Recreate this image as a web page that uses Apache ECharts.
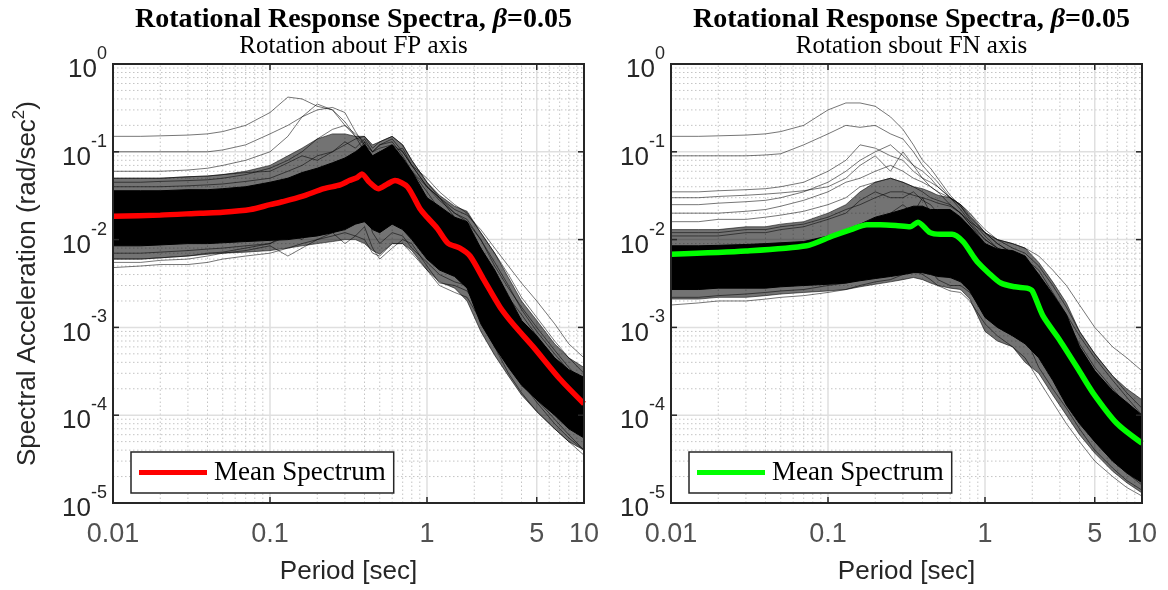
<!DOCTYPE html>
<html><head><meta charset="utf-8">
<script src="https://cdn.jsdelivr.net/npm/echarts@6/dist/echarts.min.js"></script>
<style>html,body{margin:0;padding:0;background:#fff;}#c{width:1168px;height:590px;}</style>
</head><body><div id="c"></div>
<script>
// ---------- axes / ticks ----------
const X_MIN = 0.01, X_MAX = 10, Y_MIN = 1e-5, Y_MAX = 1;
const X_TICKS = [0.01, 0.1, 1, 5, 10];
const X_TICK_LABELS = ['0.01', '0.1', '1', '5', '10'];
const X_MINOR = [0.02,0.03,0.04,0.05,0.06,0.07,0.08,0.09,0.2,0.3,0.4,0.5,0.6,0.7,0.8,0.9,2,3,4,6,7,8,9];
const Y_TICKS = [1e-5, 1e-4, 1e-3, 1e-2, 1e-1, 1];
const Y_MINOR = [2e-5,3e-5,4e-5,5e-5,6e-5,7e-5,8e-5,9e-5,2e-4,3e-4,4e-4,5e-4,6e-4,7e-4,8e-4,9e-4,
  2e-3,3e-3,4e-3,5e-3,6e-3,7e-3,8e-3,9e-3,0.02,0.03,0.04,0.05,0.06,0.07,0.08,0.09,0.2,0.3,0.4,0.5,0.6,0.7,0.8,0.9];

// ---------- periods for individual records / bands ----------
const periods = [0.01,0.015,0.02,0.03,0.04,0.05,0.07,0.1,0.13,0.16,0.2,0.25,0.3,0.35,0.4,0.45,0.5,0.6,0.7,0.8,1.0,1.2,1.5,1.8,2.2,2.7,3.3,4,5,6.5,8,10];

// ---------- Left panel: rotation about FP axis ----------
const fpMeanPeriods = [0.01,0.02,0.036,0.05,0.075,0.1,0.12,0.16,0.22,0.28,0.32,0.36,0.385,0.43,0.49,0.56,0.625,0.75,0.9,1.0,1.16,1.36,1.62,1.88,2.3,2.92,3.6,4.75,7.0,10];
const fpMean = [0.0185,0.019,0.020,0.0205,0.022,0.025,0.027,0.031,0.038,0.042,0.047,0.051,0.056,0.045,0.038,0.043,0.047,0.040,0.0226,0.018,0.0135,0.0091,0.0080,0.0065,0.0035,0.0017,0.00105,0.0006,0.00026,0.000135];
const fpBandUpper = [0.036,0.036,0.036,0.037,0.037,0.038,0.04,0.045,0.05,0.058,0.065,0.075,0.085,0.1,0.12,0.09,0.1,0.12,0.085,0.06,0.03,0.024,0.018,0.016,0.008,0.0045,0.0023,0.0012,0.0008,0.00045,0.00033,0.00027];
const fpBandLower = [0.0085,0.0085,0.0087,0.009,0.009,0.0092,0.0095,0.0098,0.01,0.0105,0.011,0.012,0.013,0.015,0.016,0.013,0.012,0.015,0.013,0.01,0.006,0.0045,0.0038,0.0028,0.0011,0.0006,0.00035,0.00022,0.00015,0.0001,0.00007,0.000055];
const fpHaloUpper = [0.05,0.05,0.05,0.052,0.053,0.055,0.06,0.07,0.09,0.11,0.14,0.16,0.16,0.15,0.15,0.12,0.13,0.15,0.12,0.08,0.045,0.032,0.024,0.021,0.012,0.007,0.0037,0.002,0.0012,0.00065,0.00045,0.00035];
const fpHaloLower = [0.006,0.006,0.0062,0.0065,0.0068,0.007,0.0072,0.0075,0.008,0.0085,0.009,0.0095,0.01,0.01,0.009,0.0075,0.0068,0.009,0.009,0.0075,0.0045,0.0033,0.0028,0.002,0.0009,0.00048,0.00028,0.00017,0.00011,0.00007,0.00005,0.00004];
const fpRecA = [0.15,0.15,0.152,0.155,0.16,0.17,0.2,0.28,0.42,0.4,0.33,0.3,0.2,0.15,0.1,0.08,0.09,0.085,0.06,0.04,0.025,0.018,0.011,0.008,0.005,0.0025,0.0013,0.0008,0.0005,0.00028,0.00018,0.00011];
const fpRecB = [0.1,0.1,0.1,0.1,0.1,0.105,0.12,0.16,0.2,0.25,0.3,0.32,0.28,0.17,0.12,0.09,0.1,0.11,0.08,0.05,0.03,0.02,0.012,0.009,0.006,0.003,0.0016,0.001,0.0006,0.00035,0.00022,0.00014];
const fpRecC = [0.06,0.06,0.06,0.062,0.065,0.07,0.08,0.1,0.15,0.25,0.35,0.3,0.22,0.15,0.12,0.1,0.12,0.13,0.09,0.06,0.035,0.022,0.014,0.01,0.006,0.0035,0.002,0.0012,0.0007,0.0004,0.00025,0.00016];
const fpRecD = [0.0048,0.005,0.0052,0.0052,0.0055,0.006,0.0065,0.007,0.008,0.009,0.01,0.011,0.012,0.011,0.01,0.007,0.0065,0.009,0.009,0.007,0.0045,0.003,0.0025,0.0022,0.0012,0.0006,0.0003,0.00018,0.00011,0.00007,0.00005,0.000035];
const fpRecE = [0.045,0.045,0.046,0.047,0.048,0.05,0.055,0.065,0.08,0.1,0.14,0.18,0.2,0.16,0.13,0.1,0.11,0.12,0.1,0.07,0.04,0.03,0.018,0.013,0.008,0.004,0.0022,0.0014,0.0008,0.00045,0.0003,0.0002];
const fpRecF = [0.04,0.04,0.04,0.041,0.042,0.043,0.046,0.05,0.06,0.07,0.09,0.1,0.12,0.14,0.15,0.11,0.13,0.15,0.12,0.08,0.045,0.03,0.02,0.016,0.01,0.005,0.0028,0.0017,0.001,0.00055,0.00035,0.00023];
const fpRecG = [0.02,0.02,0.021,0.022,0.022,0.023,0.025,0.028,0.032,0.036,0.04,0.05,0.06,0.07,0.08,0.07,0.08,0.09,0.08,0.06,0.04,0.03,0.022,0.019,0.013,0.008,0.005,0.0032,0.002,0.0011,0.00065,0.00045];
const fpRecH = [0.0055,0.0055,0.0058,0.006,0.0065,0.007,0.0075,0.0085,0.0065,0.008,0.01,0.012,0.009,0.011,0.014,0.008,0.006,0.008,0.01,0.009,0.005,0.0032,0.003,0.0026,0.0015,0.0008,0.00045,0.00026,0.00015,0.00009,0.00006,0.00004];
const fpRecI = [0.006,0.006,0.0062,0.0065,0.007,0.0072,0.008,0.009,0.011,0.013,0.016,0.02,0.022,0.025,0.03,0.02,0.015,0.018,0.016,0.012,0.008,0.006,0.005,0.0045,0.003,0.0018,0.0011,0.0007,0.00045,0.00025,0.00016,0.0001];
const fpRecJ = [0.05,0.05,0.05,0.052,0.053,0.055,0.058,0.06,0.075,0.09,0.08,0.1,0.13,0.11,0.14,0.1,0.12,0.14,0.1,0.07,0.05,0.035,0.025,0.02,0.012,0.007,0.004,0.0022,0.0013,0.0007,0.00045,0.0003];
const fpRecK = [0.028,0.028,0.029,0.03,0.03,0.031,0.033,0.038,0.05,0.045,0.06,0.07,0.055,0.09,0.13,0.07,0.09,0.1,0.11,0.07,0.04,0.028,0.02,0.017,0.01,0.0055,0.003,0.0016,0.0009,0.0005,0.00032,0.00022];
const fpRecL = [0.012,0.012,0.012,0.013,0.013,0.013,0.014,0.016,0.018,0.022,0.02,0.03,0.035,0.03,0.05,0.035,0.025,0.04,0.035,0.025,0.015,0.01,0.009,0.008,0.0035,0.0018,0.0009,0.0005,0.0003,0.00018,0.00012,0.00008];
const fpRecM = [0.007,0.007,0.0072,0.0075,0.0078,0.008,0.0085,0.009,0.012,0.01,0.015,0.013,0.018,0.016,0.025,0.012,0.009,0.012,0.011,0.008,0.0055,0.004,0.0033,0.003,0.0014,0.0007,0.0004,0.00024,0.00014,0.00008,0.000055,0.00004];

// ---------- Right panel: rotation about FN axis ----------
const fnMeanPeriods = [0.01,0.03,0.073,0.107,0.14,0.177,0.215,0.27,0.333,0.374,0.447,0.52,0.617,0.725,0.84,0.9,1.05,1.26,1.55,1.85,2.0,2.34,3.0,3.9,4.87,6.9,10];
const fnMean = [0.0068,0.0074,0.0085,0.011,0.013,0.0148,0.0148,0.0145,0.014,0.0158,0.012,0.0115,0.0115,0.0095,0.0065,0.0055,0.0042,0.0032,0.0029,0.0028,0.0026,0.00135,0.00071,0.00034,0.00018,0.000081,0.000048];
const fnBandUpper = [0.0085,0.0085,0.0086,0.0088,0.009,0.0092,0.0095,0.011,0.013,0.015,0.018,0.02,0.022,0.024,0.024,0.022,0.022,0.022,0.018,0.014,0.009,0.0078,0.0075,0.0065,0.004,0.0024,0.0014,0.0006,0.00032,0.00019,0.00014,0.0001];
const fnBandLower = [0.0027,0.0027,0.0028,0.0028,0.0028,0.0029,0.003,0.0031,0.0032,0.0034,0.0036,0.0038,0.004,0.0042,0.0042,0.004,0.0038,0.0037,0.0033,0.0026,0.0013,0.001,0.0008,0.00065,0.00045,0.00025,0.00013,0.00008,0.00005,0.00003,0.000022,0.000017];
const fnHaloUpper = [0.013,0.013,0.013,0.014,0.014,0.015,0.016,0.02,0.025,0.035,0.045,0.05,0.045,0.04,0.038,0.035,0.032,0.03,0.025,0.019,0.012,0.01,0.009,0.008,0.0055,0.0033,0.0019,0.0009,0.0005,0.00028,0.0002,0.00015];
const fnHaloLower = [0.0021,0.0021,0.0022,0.0022,0.0023,0.0024,0.0025,0.0026,0.0027,0.0029,0.0031,0.0033,0.0035,0.0037,0.0035,0.0032,0.003,0.0028,0.0027,0.0021,0.0009,0.0007,0.0006,0.0004,0.0003,0.00017,0.0001,0.00006,0.000037,0.000023,0.000017,0.000013];
const fnRec1 = [0.15,0.15,0.152,0.155,0.16,0.17,0.2,0.3,0.36,0.36,0.33,0.25,0.18,0.12,0.08,0.065,0.05,0.032,0.024,0.018,0.012,0.009,0.007,0.0055,0.0035,0.002,0.0011,0.0006,0.00032,0.00018,0.00012,0.00008];
const fnRec2 = [0.09,0.09,0.09,0.09,0.092,0.095,0.12,0.16,0.2,0.19,0.2,0.16,0.14,0.1,0.07,0.055,0.045,0.03,0.022,0.016,0.01,0.008,0.006,0.005,0.003,0.0017,0.001,0.00055,0.0003,0.00017,0.00011,0.00007];
const fnRec3 = [0.035,0.035,0.036,0.037,0.038,0.04,0.045,0.06,0.08,0.12,0.11,0.09,0.08,0.06,0.05,0.04,0.035,0.025,0.02,0.015,0.009,0.007,0.006,0.005,0.003,0.0016,0.0009,0.0005,0.00028,0.00016,0.00011,0.00008];
const fnRec4 = [0.025,0.025,0.026,0.027,0.028,0.03,0.035,0.045,0.06,0.08,0.1,0.12,0.09,0.07,0.06,0.05,0.04,0.03,0.025,0.02,0.012,0.009,0.007,0.006,0.004,0.0022,0.0012,0.00065,0.00035,0.0002,0.00013,0.00009];
const fnRec5 = [0.02,0.02,0.02,0.021,0.022,0.024,0.028,0.035,0.045,0.05,0.06,0.07,0.06,0.05,0.045,0.04,0.035,0.03,0.025,0.02,0.013,0.01,0.008,0.007,0.005,0.003,0.0017,0.0009,0.0005,0.00028,0.00018,0.00012];
const fnRec6 = [0.012,0.012,0.012,0.013,0.013,0.014,0.015,0.018,0.022,0.025,0.03,0.035,0.035,0.032,0.03,0.028,0.026,0.024,0.02,0.016,0.012,0.01,0.009,0.008,0.0065,0.0045,0.003,0.0018,0.001,0.0006,0.00045,0.00032];
const fnRec7 = [0.016,0.016,0.017,0.017,0.018,0.019,0.021,0.025,0.03,0.04,0.045,0.05,0.045,0.04,0.035,0.03,0.028,0.025,0.02,0.015,0.01,0.008,0.007,0.006,0.0045,0.0025,0.0014,0.0008,0.00045,0.00025,0.00016,0.0001];
const fnRec8 = [0.011,0.011,0.011,0.012,0.012,0.013,0.014,0.017,0.02,0.028,0.035,0.03,0.03,0.035,0.028,0.025,0.02,0.018,0.016,0.012,0.008,0.007,0.006,0.005,0.003,0.0017,0.0009,0.0005,0.00028,0.00016,0.0001,0.00007];
const fnRec9 = [0.03,0.03,0.031,0.032,0.033,0.034,0.036,0.04,0.05,0.07,0.09,0.06,0.1,0.07,0.05,0.045,0.04,0.03,0.024,0.017,0.011,0.008,0.0065,0.0055,0.0035,0.0019,0.001,0.00055,0.0003,0.00017,0.00012,0.00008];
const fnRec10 = [0.005,0.005,0.0052,0.0055,0.0055,0.0058,0.006,0.007,0.009,0.012,0.016,0.02,0.025,0.02,0.03,0.02,0.018,0.015,0.012,0.009,0.006,0.005,0.0045,0.004,0.002,0.001,0.0005,0.00025,0.00013,0.00007,0.00005,0.00003];
const fnRec11 = [0.0032,0.0032,0.0033,0.0034,0.0035,0.0036,0.0038,0.004,0.0045,0.005,0.006,0.007,0.0065,0.008,0.0075,0.006,0.005,0.0045,0.0038,0.003,0.0018,0.0014,0.0012,0.0009,0.0005,0.0003,0.00016,0.00009,0.00005,0.00003,0.000022,0.000016];
const fnRecL1 = [0.0018,0.0019,0.002,0.002,0.0021,0.0022,0.0023,0.0025,0.0027,0.003,0.0033,0.0035,0.004,0.0045,0.004,0.0035,0.003,0.0026,0.0025,0.002,0.0011,0.0008,0.0006,0.00045,0.00025,0.00014,0.00008,0.00005,0.00003,0.00002,0.000015,0.000012];
const fnRecL2 = [0.0022,0.0022,0.0023,0.0024,0.0025,0.0026,0.0027,0.003,0.0032,0.0035,0.004,0.0045,0.005,0.0055,0.005,0.0045,0.0035,0.003,0.003,0.0025,0.0015,0.0012,0.001,0.0008,0.00035,0.0002,0.00012,0.00007,0.00004,0.000025,0.000018,0.000014];

const panels = [
  {title:'Rotation about FP axis', meanName:'meanFP', meanColor:'#ff0000', meanP:fpMeanPeriods, mean:fpMean,
   upper:fpBandUpper, lower:fpBandLower, hUpper:fpHaloUpper, hLower:fpHaloLower,
   recs:[fpRecA,fpRecB,fpRecC,fpRecD,fpRecE,fpRecF,fpRecG,fpRecH,fpRecI,fpRecJ,fpRecK,fpRecL,fpRecM]},
  {title:'Rotation sbout FN axis', meanName:'meanFN', meanColor:'#00ff00', meanP:fnMeanPeriods, mean:fnMean,
   upper:fnBandUpper, lower:fnBandLower, hUpper:fnHaloUpper, hLower:fnHaloLower,
   recs:[fnRec1,fnRec2,fnRec3,fnRec4,fnRec5,fnRec6,fnRec7,fnRec8,fnRec9,fnRec10,fnRec11,fnRecL1,fnRecL2]}
];

// ---------- layout ----------
const GRIDS = [{left:113, top:64, width:471, height:444}, {left:671, top:64, width:471, height:444}];
const SANS = 'Liberation Sans, Arial, Helvetica, sans-serif';
const SERIF = 'Liberation Serif, Times New Roman, serif';
const AX = '#262626';

const chart = echarts.init(document.getElementById('c'), null, {renderer:'canvas'});

function bandPolygon(i, up, lo, fill, z) {
  return {type:'custom', xAxisIndex:i, yAxisIndex:i, z:z, silent:true, data:[[X_MIN, Y_MIN]],
    renderItem:(params, api) => {
      const pts = [];
      for (let k = 0; k < periods.length; k++) pts.push(api.coord([periods[k], up[k]]));
      for (let k = periods.length - 1; k >= 0; k--) pts.push(api.coord([periods[k], lo[k]]));
      return {type:'polygon', shape:{points:pts}, style:{fill:fill, stroke:fill, lineWidth:1}};
    }};
}

const xAxes = [], yAxes = [], series = [], titles = [], legends = [];
panels.forEach((p, i) => {
  const g = GRIDS[i];
  const cx = g.left + g.width / 2;
  titles.push({text:'{b|Rotational Response Spectra, }{i|β}{b|=0.05}', left:cx, textAlign:'center', top:1,
    textStyle:{rich:{b:{fontFamily:SERIF, fontWeight:'bold', fontSize:28, color:'#000'},
                     i:{fontFamily:SERIF, fontWeight:'bold', fontStyle:'italic', fontSize:28, color:'#000'}}}});
  titles.push({text:p.title, left:cx, textAlign:'center', top:29,
    textStyle:{fontFamily:SERIF, fontWeight:'normal', fontSize:25, color:'#000'}});
  xAxes.push({gridIndex:i, type:'log', logBase:10, min:X_MIN, max:X_MAX,
    axisLine:{show:false}, axisTick:{show:false}, axisLabel:{show:false}, splitLine:{show:false},
    name:'Period [sec]', nameLocation:'middle', nameGap:56,
    nameTextStyle:{fontFamily:SANS, fontSize:26, color:AX}});
  yAxes.push({gridIndex:i, type:'log', logBase:10, min:Y_MIN, max:Y_MAX, splitNumber:5,
    axisLine:{show:false}, axisTick:{show:false}, splitLine:{show:false},
    axisLabel:{show:true, margin:6, showMinLabel:true, showMaxLabel:true,
      formatter: v => '{b|10}{s|' + Math.round(Math.log10(v)) + '}',
      rich:{b:{fontFamily:SANS, fontSize:26, color:AX, lineHeight:38, verticalAlign:'bottom'},
            s:{fontFamily:SANS, fontSize:18, color:AX, lineHeight:18, verticalAlign:'top'}}},
    name: i === 0 ? '{a|Spectral Acceleration (rad/sec}{s|2}{a|)}' : '',
    nameLocation:'middle', nameGap:72, nameRotate:90,
    nameTextStyle:{rich:{a:{fontFamily:SANS, fontSize:26, color:AX, lineHeight:30, verticalAlign:'bottom'},
                         s:{fontFamily:SANS, fontSize:17, color:AX, lineHeight:30, verticalAlign:'top'}}}});

  // grid lines
  series.push({type:'custom', xAxisIndex:i, yAxisIndex:i, z:1, silent:true, data:[[X_MIN, Y_MIN]],
    renderItem:(params, api) => {
      const ch = [];
      const vline = (x, style) => { const a = api.coord([x, Y_MIN]), b = api.coord([x, Y_MAX]);
        ch.push({type:'line', shape:{x1:a[0], y1:a[1], x2:b[0], y2:b[1]}, style}); };
      const hline = (y, style) => { const a = api.coord([X_MIN, y]), b = api.coord([X_MAX, y]);
        ch.push({type:'line', shape:{x1:a[0], y1:a[1], x2:b[0], y2:b[1]}, style}); };
      const minor = {stroke:'#c4c4c4', lineWidth:1, lineDash:[1.5,2.5]};
      const major = {stroke:'#dfdfdf', lineWidth:1.5};
      X_MINOR.forEach(x => vline(x, minor));
      Y_MINOR.forEach(y => hline(y, minor));
      X_TICKS.forEach(x => vline(x, major));
      Y_TICKS.forEach(y => hline(y, major));
      return {type:'group', children:ch};
    }});

  // halo of records (semi-dense) and dense core
  series.push(bandPolygon(i, p.hUpper, p.hLower, 'rgba(0,0,0,0.55)', 2));
  series.push(bandPolygon(i, p.upper, p.lower, '#000', 2));

  // individual records
  p.recs.forEach(r => series.push({type:'line', xAxisIndex:i, yAxisIndex:i, z:2, silent:true,
    showSymbol:false, symbol:'none', smooth:false, data: periods.map((t, k) => [t, r[k]]),
    lineStyle:{color:'rgba(0,0,0,0.6)', width:0.9}}));

  // mean spectrum
  series.push({type:'line', name:p.meanName, xAxisIndex:i, yAxisIndex:i, z:3, silent:true,
    showSymbol:false, symbol:'none', smooth:0.25, color:p.meanColor,
    data: p.meanP.map((t, k) => [t, p.mean[k]]),
    lineStyle:{color:p.meanColor, width:5.5}});

  // x tick labels
  series.push({type:'scatter', xAxisIndex:i, yAxisIndex:i, z:3, silent:true, symbolSize:0, clip:false,
    data: X_TICKS.map(v => [v, Y_MIN]),
    label:{show:true, position:'bottom', distance:18, formatter: q => X_TICK_LABELS[q.dataIndex],
      fontFamily:SANS, fontSize:27, color:AX}});

  // frame + ticks
  series.push({type:'custom', xAxisIndex:i, yAxisIndex:i, z:4, silent:true, data:[[X_MIN, Y_MIN]],
    renderItem:(params, api) => {
      const ch = [];
      const st = {stroke:AX, lineWidth:1.5};
      const lo = api.coord([X_MIN, Y_MIN]), hi = api.coord([X_MAX, Y_MAX]);
      ch.push({type:'rect', shape:{x:lo[0], y:hi[1], width:hi[0]-lo[0], height:lo[1]-hi[1]},
        style:{fill:'none', stroke:AX, lineWidth:2}});
      X_TICKS.forEach(x => { const a = api.coord([x, Y_MIN]), b = api.coord([x, Y_MAX]);
        ch.push({type:'line', shape:{x1:a[0], y1:a[1], x2:a[0], y2:a[1]-6}, style:st});
        ch.push({type:'line', shape:{x1:b[0], y1:b[1], x2:b[0], y2:b[1]+6}, style:st}); });
      Y_TICKS.forEach(y => { const a = api.coord([X_MIN, y]), b = api.coord([X_MAX, y]);
        ch.push({type:'line', shape:{x1:a[0], y1:a[1], x2:a[0]+6, y2:a[1]}, style:st});
        ch.push({type:'line', shape:{x1:b[0], y1:b[1], x2:b[0]-6, y2:b[1]}, style:st}); });
      return {type:'group', children:ch};
    }});

  legends.push({data:[p.meanName], left:g.left + 18, top:452, z:10, icon:'rect', itemWidth:68, itemHeight:5,
    formatter:() => 'Mean Spectrum', selectedMode:false, backgroundColor:'#fff',
    borderColor:AX, borderWidth:1.5, borderRadius:0, padding:[7,8,7,8],
    textStyle:{fontFamily:SERIF, fontSize:27, color:'#000', padding:[0,0,0,2]}});
});

chart.setOption({
  animation:false,
  backgroundColor:'#fff',
  title:titles,
  legend:legends,
  grid: GRIDS.map(g => ({left:g.left, top:g.top, width:g.width, height:g.height, containLabel:false})),
  xAxis:xAxes, yAxis:yAxes, series:series
});
</script></body></html>
